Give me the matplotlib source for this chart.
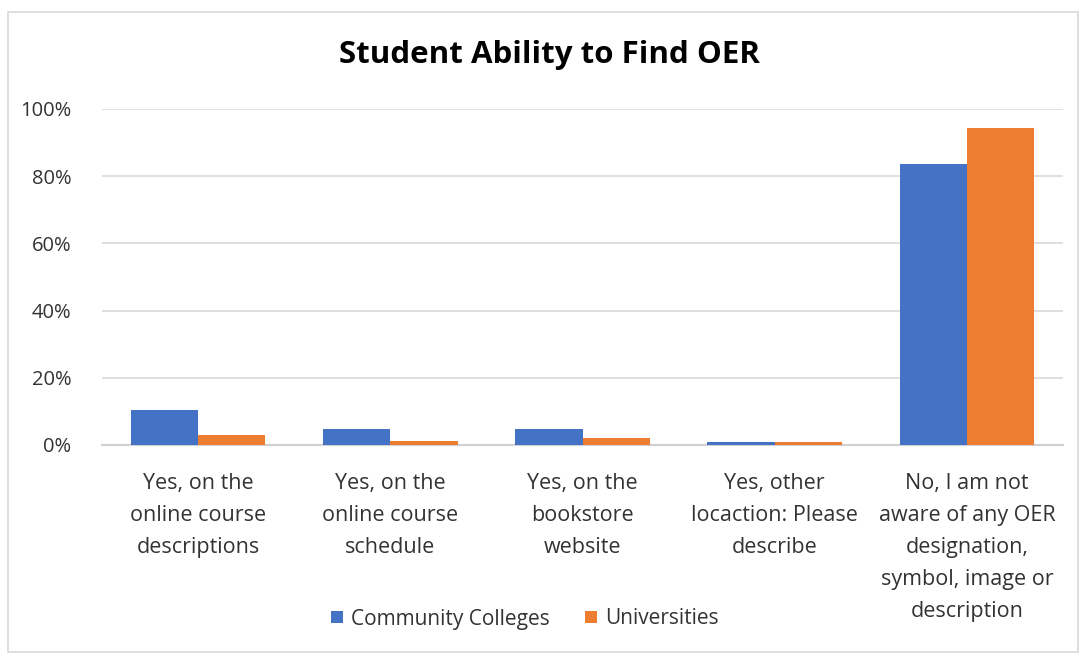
import matplotlib
matplotlib.use("Agg")
import matplotlib.pyplot as plt
from matplotlib.patches import Rectangle, Patch
from matplotlib.ticker import FuncFormatter, MultipleLocator
import numpy as np

categories = [
    "Yes, on the\nonline course\ndescriptions",
    "Yes, on the\nonline course\nschedule",
    "Yes, on the\nbookstore\nwebsite",
    "Yes, other\nlocaction: Please\ndescribe",
    "No, I am not\naware of any OER\ndesignation,\nsymbol, image or\ndescription",
]
community_colleges = [0.103, 0.049, 0.049, 0.008, 0.836]
universities = [0.031, 0.013, 0.020, 0.008, 0.943]
series_names = ["Community Colleges", "Universities"]
colors = ["#4472C4", "#ED7D31"]

plt.rcParams['font.family'] = ['Open Sans', 'DejaVu Sans']
text_color = "#333333"

fig = plt.figure(figsize=(10.8, 6.57), dpi=100)
ax = fig.add_axes([102/1080, 1-445/657, (1063-102)/1080, (445-109)/657])

x = np.arange(len(categories))
w = 0.35
ax.bar(x - w/2, community_colleges, w, color=colors[0], label=series_names[0], zorder=3)
ax.bar(x + w/2, universities, w, color=colors[1], label=series_names[1], zorder=3)

ax.set_xlim(-0.5, len(categories) - 0.5)
ax.set_ylim(0, 1.0)
ax.yaxis.set_major_locator(MultipleLocator(0.2))
ax.yaxis.set_major_formatter(FuncFormatter(lambda v, p: f"{v*100:.0f}%"))
ax.grid(axis='y', color='#D9D9D9', linewidth=1.2, zorder=0)
for s in ['top', 'right', 'left']:
    ax.spines[s].set_visible(False)
ax.spines['bottom'].set_color('#D0D0D0')
ax.spines['bottom'].set_linewidth(1.5)
ax.tick_params(axis='y', length=0, pad=22, labelsize=14.5, labelcolor=text_color)
ax.tick_params(axis='x', length=0, pad=20, labelsize=15.5, labelcolor=text_color)
ax.set_xticks(x)
ax.set_xticklabels(categories, linespacing=1.69)

fig.text(549/1080, 1-55/657, "Student Ability to Find OER", ha='center', va='center',
         fontsize=22.5, fontweight='bold', color='black')

handles = [Patch(facecolor=colors[0]), Patch(facecolor=colors[1])]
fig.legend(handles, series_names, loc='center', bbox_to_anchor=(525/1080, 1-619/657),
           ncol=2, frameon=False, fontsize=15, handlelength=0.55, handleheight=0.55,
           handletextpad=0.4, columnspacing=1.7, labelcolor=text_color)

fig.patches.append(Rectangle((8/1080, 1-652/657), 1070/1080, 640/657, transform=fig.transFigure,
                             fill=False, edgecolor='#D9D9D9', linewidth=1.2))

fig.savefig("out.png", dpi=100, facecolor='white')
